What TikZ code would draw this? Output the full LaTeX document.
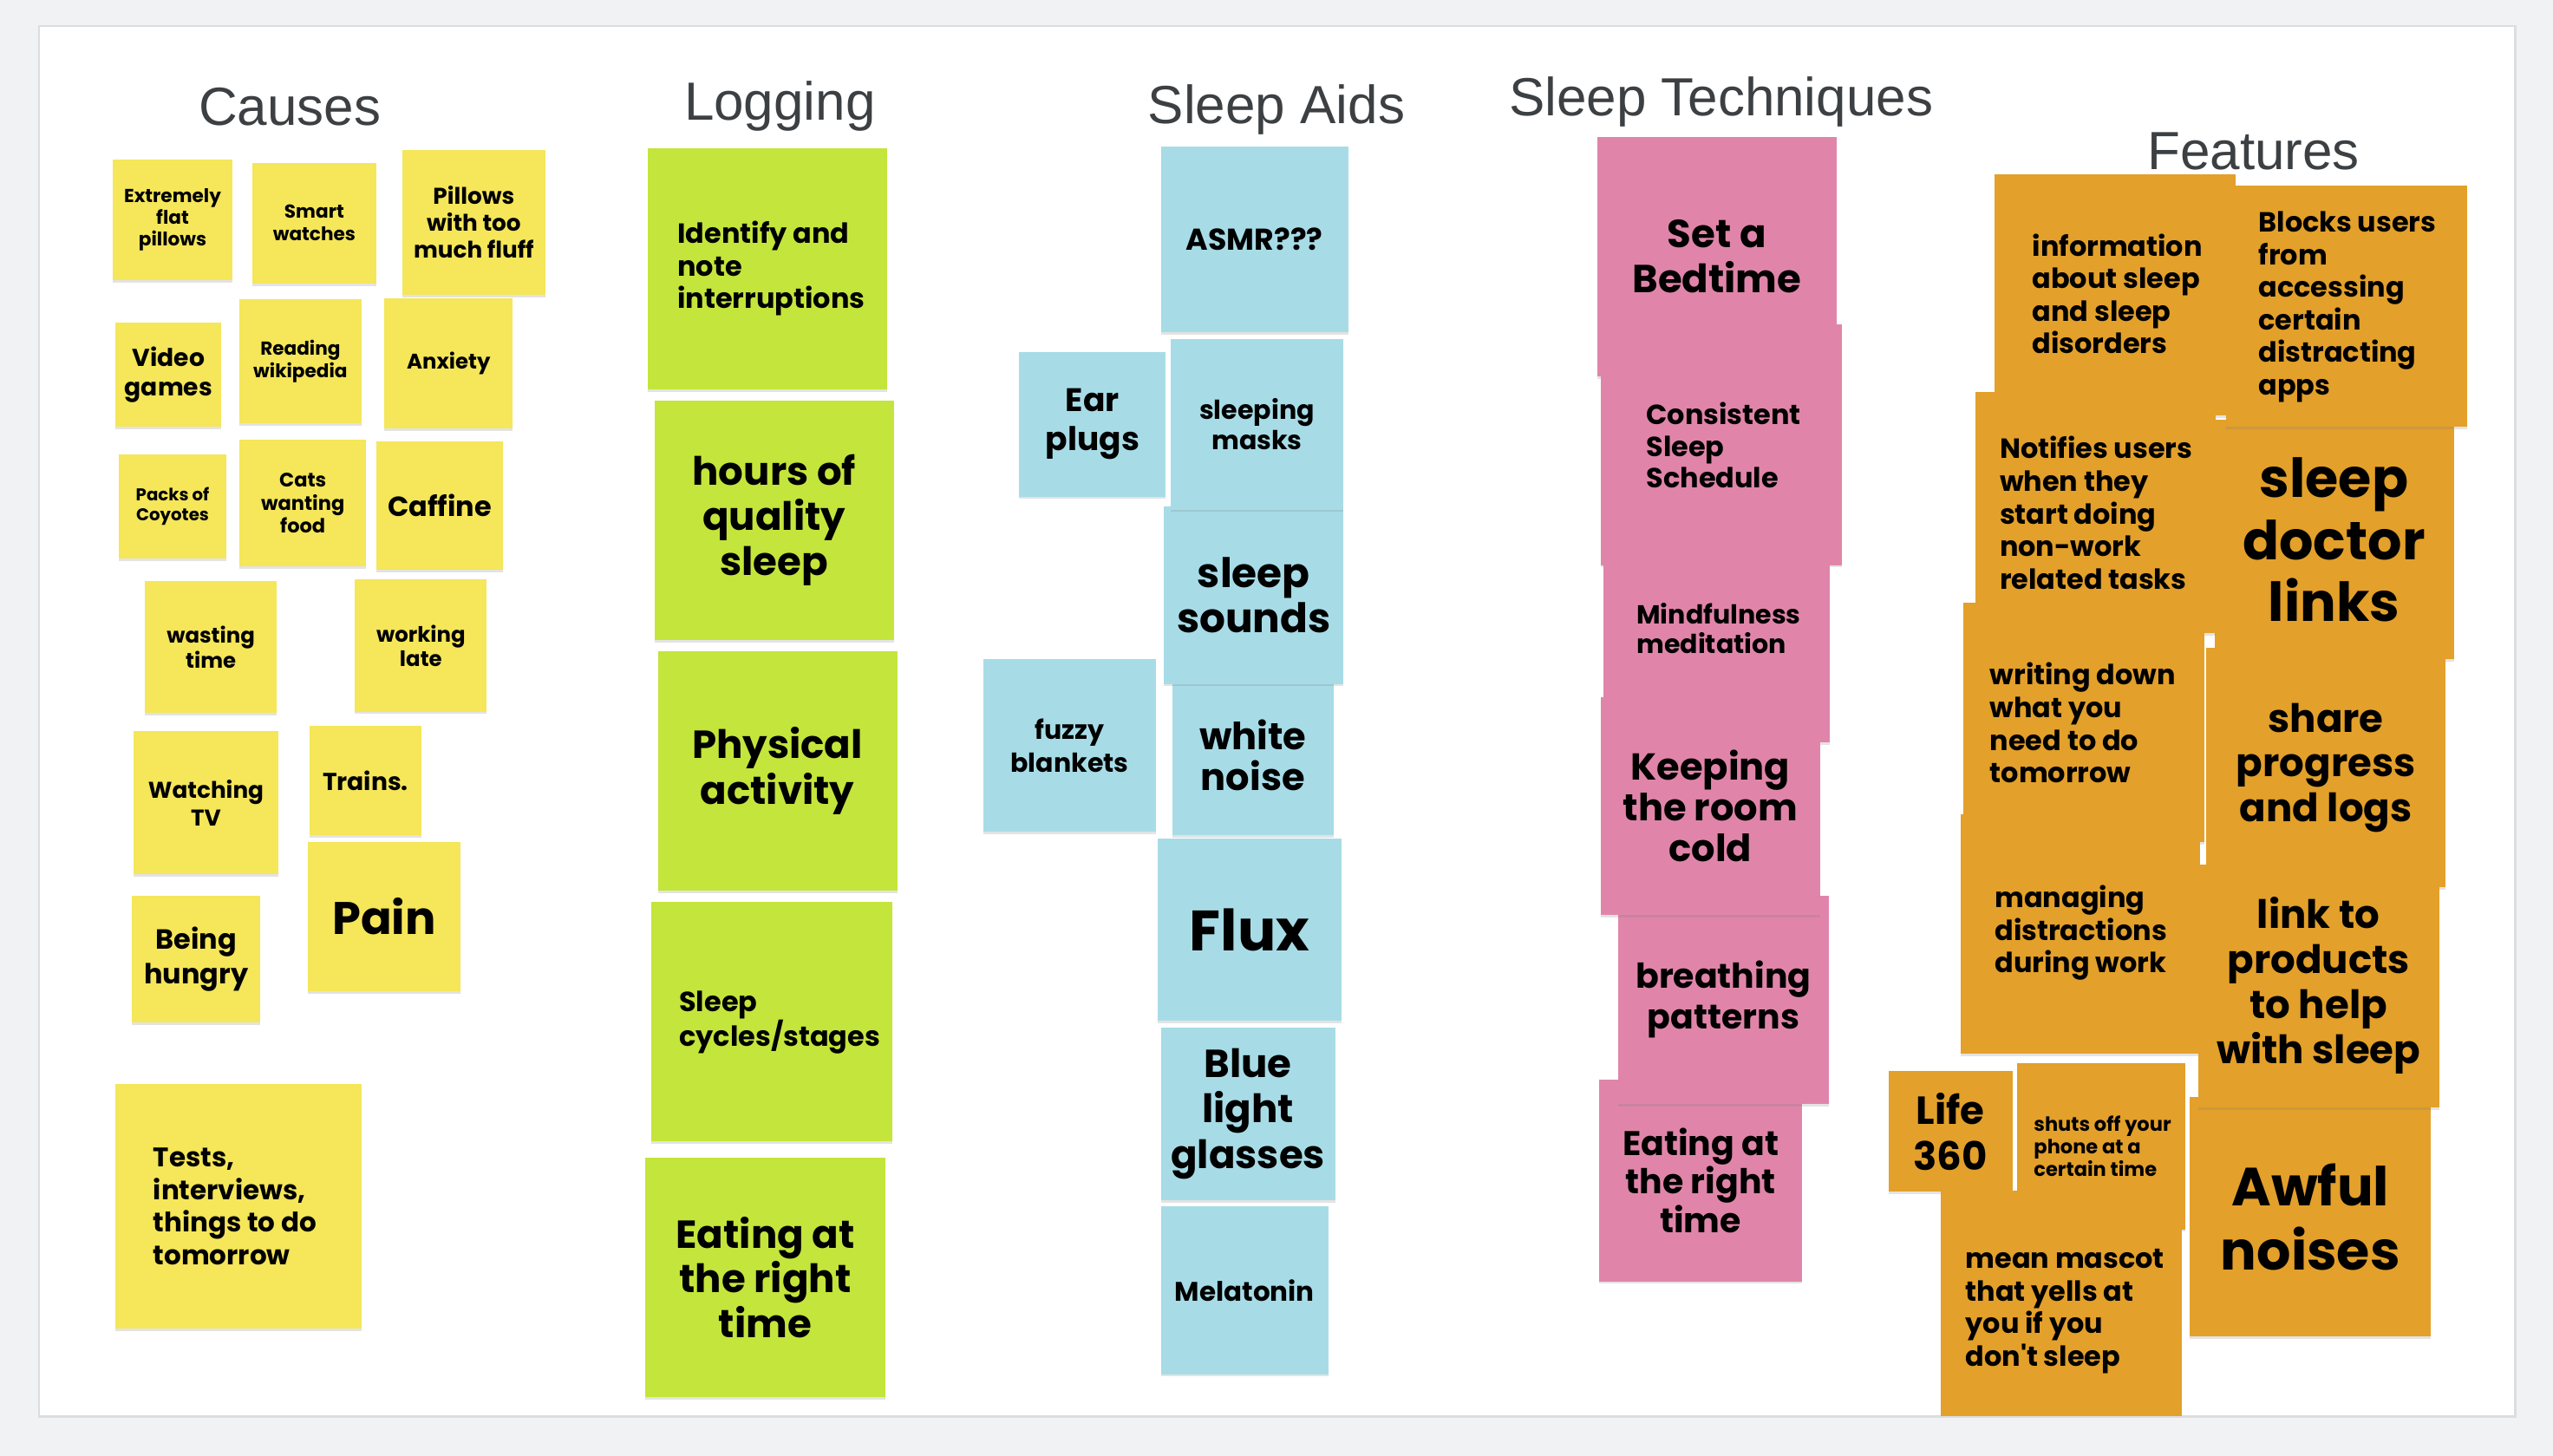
\documentclass[tikz,border=0pt]{standalone}
\usepackage{fontspec}
\setmainfont{Liberation Sans}
\newfontfamily\notefont{Poppins}
\usetikzlibrary{shadows}
\definecolor{boardgray}{HTML}{F1F2F4}
\definecolor{panelline}{HTML}{DCDDE0}
\definecolor{titlegray}{HTML}{3C4043}
\definecolor{stickyyellow}{HTML}{F5E65A}
\definecolor{stickygreen}{HTML}{C4E53B}
\definecolor{stickyblue}{HTML}{A7DCE7}
\definecolor{stickypink}{HTML}{E085A9}
\definecolor{stickyorange}{HTML}{E3A02A}
\newcommand{\nfs}[2]{\notefont\bfseries\fontsize{#1}{#2}\selectfont}
\begin{document}
\begin{tikzpicture}[x=1pt,y=-1pt,
    note/.style args={#1x#2}{rectangle, inner sep=0pt, minimum width=#1, minimum height=#2,
      align=center, text=black, drop shadow={shadow xshift=0pt, shadow yshift=-1.5pt, opacity=0.22}},
    ltxt/.style={inner sep=0pt, align=left, anchor=west, text=black},
    title/.style={anchor=base, text=titlegray, font=\fontsize{33}{40}\selectfont}]
    \useasboundingbox (0,0) rectangle (1568,894);
    % lavagna
    \fill[boardgray] (0,0) rectangle (1568,894);
    \path[fill=white, draw=panelline, line width=1.5pt] (24,16) rectangle (1545,870);

    % titoli
    \node[title] (tCauses) at (178,77) {Causes};
    \node[title] (tLogging) at (479,74) {Logging};
    \node[title] (tAids) at (784,76) {Sleep Aids};
    \node[title] (tTech) at (1057,71) {Sleep Techniques};
    \node[title] (tFeatures) at (1384,104) {Features};

    % Causes
    \node[note=74x74, fill=stickyyellow, font=\nfs{11.5}{13.5}] (cFlat) at (106,135) {Extremely\\flat\\pillows};
    \node[note=76x74, fill=stickyyellow, font=\nfs{11.5}{14}] (cWatch) at (193,137) {Smart\\watches};
    \node[note=88x89, fill=stickyyellow, font=\nfs{14}{16.5}] (cFluff) at (291,136.5) {Pillows\\with too\\much fluff};
    \node[note=65x64, fill=stickyyellow, font=\nfs{15}{18}] (cVideo) at (103.5,230) {Video\\games};
    \node[note=75x76, fill=stickyyellow, font=\nfs{11.5}{14}] (cWiki) at (184.5,222) {Reading\\wikipedia};
    \node[note=79x80, fill=stickyyellow, font=\nfs{13}{15}] (cAnx) at (275.5,223) {Anxiety};
    \node[note=66x64, fill=stickyyellow, font=\nfs{10.5}{12}] (cCoyote) at (106,311) {Packs of\\Coyotes};
    \node[note=78x78, fill=stickyyellow, font=\nfs{12}{14}] (cCats) at (186,309) {Cats\\wanting\\food};
    \node[note=78x79, fill=stickyyellow, font=\nfs{17}{20}] (cCaff) at (270,310.5) {Caffine};
    \node[note=81x81, fill=stickyyellow, font=\nfs{13}{15}] (cWaste) at (129.5,397.5) {wasting\\time};
    \node[note=81x81, fill=stickyyellow, font=\nfs{13}{15}] (cLate) at (258.5,396.5) {working\\late};
    \node[note=89x88, fill=stickyyellow, font=\nfs{14}{17}] (cTV) at (126.5,493) {Watching\\TV};
    \node[note=69x67, fill=stickyyellow, font=\nfs{15}{18}] (cTrains) at (224.5,479.5) {Trains.};
    \node[note=94x92, fill=stickyyellow, font=\nfs{28}{32}] (cPain) at (236,563) {Pain};
    \node[note=79x78, fill=stickyyellow, font=\nfs{17}{21}] (cHungry) at (120.5,589) {Being\\hungry};
    \node[note=151x150, fill=stickyyellow] (cTests) at (146.5,741) {};
    \node[ltxt, font=\nfs{16.5}{20}] (cTests-t) at (94,741) {Tests,\\interviews,\\things to do\\tomorrow};

    % Logging
    \node[note=147x148, fill=stickygreen] (lNote) at (471.5,165) {};
    \node[ltxt, font=\nfs{17}{20}] (lNote-t) at (416,165) {Identify and\\note\\interruptions};
    \node[note=147x147, fill=stickygreen, font=\nfs{24}{27.5}] (lHours) at (475.5,319.5) {hours of\\quality\\sleep};
    \node[note=147x147, fill=stickygreen, font=\nfs{24}{28}] (lPhys) at (477.5,473.5) {Physical\\activity};
    \node[note=148x147, fill=stickygreen] (lCycles) at (474,627.5) {};
    \node[ltxt, font=\nfs{17}{20}] (lCycles-t) at (417,628) {Sleep\\cycles/stages};
    \node[note=148x147, fill=stickygreen, font=\nfs{24}{27.5}] (lEat) at (470,784.5) {Eating at\\the right\\time};

    % Sleep Aids
    \node[note=115x114, fill=stickyblue, font=\nfs{18.5}{22}] (aAsmr) at (770.5,147) {ASMR???};
    \node[note=99x98, fill=stickyblue, font=\nfs{23}{25}] (aWhite) at (769.5,464) {white\\noise};
    \node[note=110x109, fill=stickyblue, font=\nfs{25}{28}] (aSounds) at (770,365.5) {sleep\\sounds};
    \node[note=106x105, fill=stickyblue, font=\nfs{16}{19}] (aMask) at (772,260.5) {sleeping\\masks};
    \node[note=90x89, fill=stickyblue, font=\nfs{20}{24}] (aEar) at (671,260.5) {Ear\\plugs};
    \node[note=106x106, fill=stickyblue, font=\nfs{16}{20}] (aFuzzy) at (657,458) {fuzzy\\blankets};
    \node[note=113x112, fill=stickyblue, font=\nfs{35}{40}] (aFlux) at (767.5,571) {Flux};
    \node[note=107x106, fill=stickyblue, font=\nfs{24}{28}] (aBlue) at (766.5,684) {Blue\\light\\glasses};
    \node[note=103x103, fill=stickyblue, font=\nfs{16.5}{20}] (aMela) at (764.5,792.5) {Melatonin};

    % Sleep Techniques
    \node[note=147x147, fill=stickypink, font=\nfs{24}{28}] (tBed) at (1054.5,157.5) {Set a\\Bedtime};
    \node[note=148x148, fill=stickypink] (tCons) at (1057,273) {};
    \node[ltxt, font=\nfs{17}{19.5}] (tCons-t) at (1011,273.5) {Consistent\\Sleep\\Schedule};
    \node[note=139x139, fill=stickypink] (tMind) at (1054.5,386.5) {};
    \node[ltxt, font=\nfs{16}{18}] (tMind-t) at (1005,386) {Mindfulness\\meditation};
    \node[note=125x124, fill=stickypink, font=\nfs{21}{23.5}] (tEat) at (1044.5,725) {Eating at\\the right\\time};
    \node[note=129x128, fill=stickypink, font=\nfs{21}{25}] (tBreath) at (1058.5,614) {breathing\\patterns};
    \node[note=135x134, fill=stickypink, font=\nfs{23}{25}] (tKeep) at (1050.5,495) {Keeping\\the room\\cold};

    % Features
    \node[note=148x148, fill=stickyorange] (fInfo) at (1299,181) {};
    \node[ltxt, font=\nfs{17}{20}] (fInfo-t) at (1248,180.5) {information\\about sleep\\and sleep\\disorders};
    \node[note=147x147, fill=stickyorange, font=\nfs{33}{38}] (fDoc) at (1433.5,331.5) {sleep\\doctor\\links};
    \node[note=148x148, fill=stickyorange] (fBlock) at (1441,188) {};
    \node[ltxt, font=\nfs{17}{20}] (fBlock-t) at (1387,188.5) {Blocks users\\from\\accessing\\certain\\distracting\\apps};
    \node[note=148x148, fill=stickyorange] (fNotif) at (1287,315) {};
    \node[ltxt, font=\nfs{17}{20}] (fNotif-t) at (1228,315) {Notifies users\\when they\\start doing\\non-work\\related tasks};
    \node[note=148x147, fill=stickyorange] (fWrite) at (1280,443.5) {};
    \node[ltxt, font=\nfs{17}{20}] (fWrite-t) at (1222,444) {writing down\\what you\\need to do\\tomorrow};
    \node[note=147x147, fill=stickyorange, font=\nfs{24}{27.5}] (fShare) at (1428.5,471.5) {share\\progress\\and logs};
    \node[note=147x147, fill=stickyorange] (fManage) at (1277.5,573.5) {};
    \node[ltxt, font=\nfs{17}{20}] (fManage-t) at (1225,573) {managing\\distractions\\during work};
    \node[note=148x147, fill=stickyorange, font=\nfs{33}{39}] (fAwful) at (1419,747.5) {Awful\\noises};
    \node[note=148x149, fill=stickyorange, font=\nfs{24}{27.7}] (fLink) at (1424,605.5) {link to\\products\\to help\\with sleep};
    \node[note=76x74, fill=stickyorange, font=\nfs{24}{28}] (fLife) at (1198,695) {Life\\360};
    \node[note=103x102, fill=stickyorange] (fShut) at (1290.5,704) {};
    \node[ltxt, font=\nfs{12}{14}] (fShut-t) at (1249,704) {shuts off your\\phone at a\\certain time};
    \node[rectangle, inner sep=0pt, minimum width=148, minimum height=139, fill=stickyorange] (fMascot) at (1266,800.5) {};
    \node[ltxt, font=\nfs{17}{20}] (fMascot-t) at (1207,805.5) {mean mascot\\that yells at\\you if you\\don't sleep};
\end{tikzpicture}
\end{document}
